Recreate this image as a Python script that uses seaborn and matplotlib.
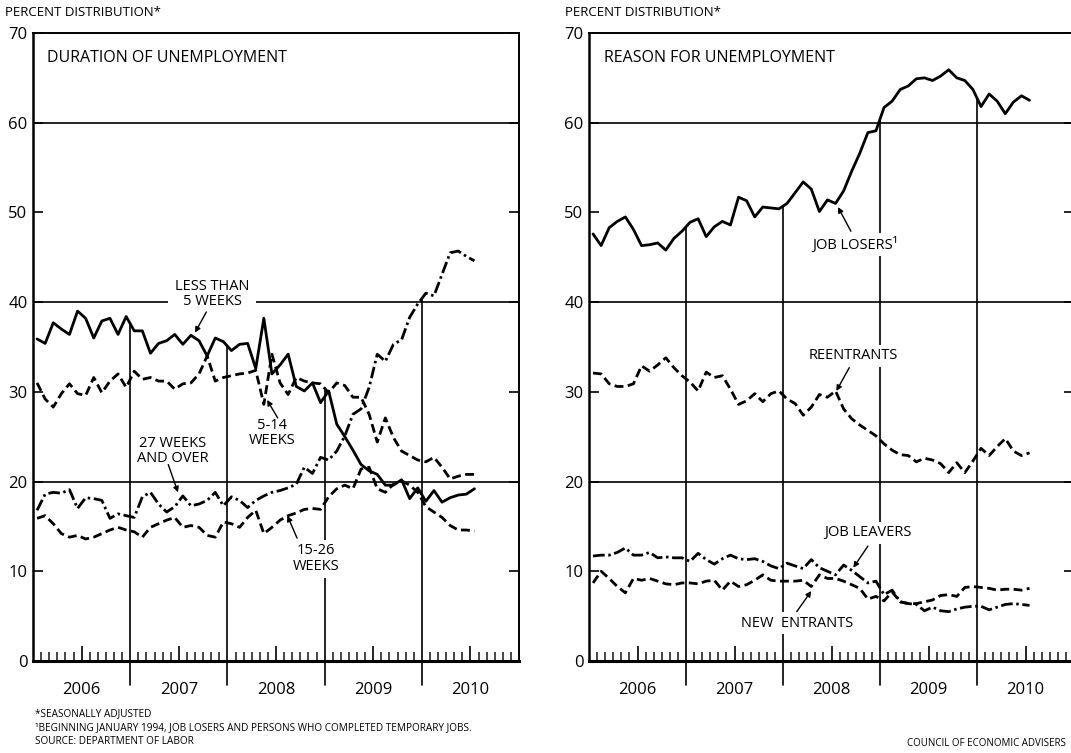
import numpy as np
import pandas as pd
import matplotlib
matplotlib.use("Agg")
import matplotlib.pyplot as plt
import seaborn as sns

# ---------------- data (percent distribution, monthly Jan 2006 - Jul 2010) ----------------
years = ["2006", "2007", "2008", "2009", "2010"]
n_months = 55

less_than_5_weeks = [35.9, 35.4, 37.7, 37.0, 36.4, 39.0, 38.2, 36.0, 37.9, 38.2, 36.4, 38.4,
                     36.8, 36.8, 34.3, 35.4, 35.7, 36.4, 35.3, 36.3, 35.7, 34.0, 36.0, 35.6,
                     34.6, 35.3, 35.4, 32.6, 38.2, 32.0, 33.0, 34.2, 30.6, 30.1, 31.0, 28.8,
                     30.1, 26.4, 25.0, 23.5, 21.9, 21.2, 20.8, 19.6, 19.6, 20.2, 18.1, 19.3,
                     17.8, 19.0, 17.7, 18.2, 18.5, 18.6, 19.2]
weeks_5_14 = [31.0, 29.2, 28.3, 29.8, 30.9, 29.8, 29.6, 31.6, 29.9, 31.2, 32.0, 30.5,
              32.3, 31.4, 31.6, 31.2, 31.2, 30.3, 30.9, 31.0, 32.0, 34.0, 31.2, 31.6,
              31.8, 32.0, 32.1, 32.4, 28.6, 34.2, 31.0, 29.7, 31.6, 31.2, 31.0, 30.9,
              29.9, 31.0, 30.7, 29.4, 29.4, 27.5, 24.4, 27.1, 24.9, 23.4, 22.9, 22.4,
              22.2, 22.7, 21.6, 20.3, 20.6, 20.8, 20.8]
weeks_15_26 = [15.9, 16.2, 15.3, 14.2, 13.8, 14.0, 13.6, 13.8, 14.2, 14.6, 14.9, 14.6,
               14.4, 13.8, 14.9, 15.3, 15.7, 16.0, 14.9, 15.1, 14.9, 14.0, 13.8, 15.5,
               15.3, 14.9, 16.0, 16.8, 14.2, 14.9, 15.7, 16.2, 16.5, 16.9, 17.0, 16.9,
               18.3, 19.2, 19.6, 19.2, 21.4, 21.6, 19.2, 18.8, 19.7, 20.1, 19.6, 18.8,
               17.2, 16.6, 16.0, 15.1, 14.6, 14.6, 14.5]
weeks_27_over = [16.8, 18.6, 18.8, 18.7, 19.1, 17.0, 18.2, 18.1, 17.9, 15.9, 16.4, 16.2,
                 16.0, 18.3, 18.8, 17.5, 16.6, 17.2, 18.4, 17.3, 17.5, 17.9, 18.8, 17.3,
                 18.3, 17.9, 17.1, 17.9, 18.4, 18.8, 19.0, 19.3, 19.7, 21.6, 20.9, 22.7,
                 22.4, 23.4, 25.1, 27.5, 28.1, 30.5, 34.2, 33.4, 35.3, 35.8, 38.3, 39.8,
                 41.0, 40.7, 43.1, 45.5, 45.7, 45.1, 44.6]

job_losers = [47.6, 46.3, 48.3, 49.0, 49.5, 48.1, 46.3, 46.4, 46.6, 45.8, 47.1, 47.9,
              48.9, 49.3, 47.3, 48.4, 49.0, 48.6, 51.7, 51.3, 49.5, 50.6, 50.5, 50.4,
              51.0, 52.2, 53.4, 52.6, 50.1, 51.4, 51.0, 52.4, 54.6, 56.6, 58.9, 59.1,
              61.7, 62.4, 63.7, 64.1, 64.9, 65.0, 64.7, 65.2, 65.9, 65.0, 64.7, 63.7,
              61.8, 63.2, 62.4, 61.0, 62.3, 63.0, 62.5]
reentrants = [32.1, 32.0, 30.9, 30.6, 30.6, 30.9, 32.9, 32.3, 33.0, 33.8, 32.7, 31.8,
              31.1, 30.1, 32.2, 31.6, 31.8, 30.3, 28.6, 29.0, 29.8, 28.9, 29.8, 30.1,
              29.2, 28.7, 27.4, 28.3, 29.7, 29.4, 30.1, 28.1, 27.0, 26.3, 25.7, 25.1,
              24.2, 23.5, 23.0, 22.9, 22.2, 22.6, 22.4, 22.0, 21.0, 22.1, 21.0, 22.3,
              23.7, 22.9, 23.9, 24.8, 23.4, 22.9, 23.2]
job_leavers = [11.7, 11.8, 11.8, 12.1, 12.6, 11.8, 11.8, 12.1, 11.5, 11.6, 11.5, 11.5,
               11.1, 12.0, 11.3, 10.8, 11.4, 11.8, 11.4, 11.3, 11.4, 11.1, 10.6, 10.3,
               10.9, 10.6, 10.3, 11.3, 10.4, 10.0, 9.6, 10.7, 10.1, 9.4, 8.7, 8.9,
               7.4, 7.9, 6.6, 6.4, 6.3, 5.6, 6.0, 5.6, 5.5, 5.8, 6.0, 6.1,
               6.1, 5.7, 6.0, 6.3, 6.4, 6.3, 6.2]
new_entrants = [8.7, 10.0, 9.2, 8.3, 7.6, 9.2, 9.0, 9.2, 8.9, 8.6, 8.5, 8.7,
                8.7, 8.6, 8.9, 9.0, 7.9, 8.9, 8.3, 8.5, 9.0, 9.6, 9.0, 8.9,
                8.9, 8.9, 9.0, 8.3, 9.6, 9.2, 9.2, 8.9, 8.5, 8.1, 6.9, 7.2,
                6.7, 7.7, 6.6, 6.4, 6.4, 6.6, 6.8, 7.3, 7.4, 7.2, 8.2, 8.3,
                8.2, 8.1, 7.9, 8.0, 8.0, 7.9, 8.1]

# month positions (month index, plotted mid-month)
month_pos = np.arange(n_months) + 0.5

left_series = {"LESS THAN 5 WEEKS": less_than_5_weeks, "5-14 WEEKS": weeks_5_14,
               "15-26 WEEKS": weeks_15_26, "27 WEEKS AND OVER": weeks_27_over}
right_series = {"JOB LOSERS": job_losers, "REENTRANTS": reentrants,
                "JOB LEAVERS": job_leavers, "NEW ENTRANTS": new_entrants}

DASH = (3.2, 1.6)
DASHDOT = (4.2, 1.3, 0.9, 1.3)
left_dashes = {"LESS THAN 5 WEEKS": "", "5-14 WEEKS": DASH, "15-26 WEEKS": DASH,
               "27 WEEKS AND OVER": DASHDOT}
right_dashes = {"JOB LOSERS": "", "REENTRANTS": DASH, "JOB LEAVERS": DASHDOT,
                "NEW ENTRANTS": DASH}


def long_df(series):
    frames = [pd.DataFrame({"month": month_pos, "value": vals, "series": name})
              for name, vals in series.items()]
    return pd.concat(frames, ignore_index=True)


sns.set_style("white")
plt.rcParams["font.family"] = ["Open Sans", "DejaVu Sans"]
plt.rcParams["text.color"] = "black"

W, H = 1071, 753
fig = plt.figure(figsize=(W / 100, H / 100), dpi=100)
axL = fig.add_axes([33 / W, 1 - 661 / H, 486 / W, 628 / H])
axR = fig.add_axes([589 / W, 1 - 661 / H, 485 / W, 628 / H])


def style_axes(ax, series):
    ax.set_xlim(0, 60)
    ax.set_ylim(0, 70)
    for side in ["left", "bottom", "right", "top"]:
        ax.spines[side].set_visible(True)
        ax.spines[side].set_color("black")
    ax.spines["left"].set_linewidth(1.8)
    ax.spines["bottom"].set_linewidth(2.2)
    ax.spines["top"].set_linewidth(1.4)
    ax.spines["right"].set_linewidth(1.4)
    ax.set_yticks(range(0, 71, 10))
    ax.tick_params(axis="y", direction="in", length=7, width=1.2, left=True, right=True,
                   labelleft=True, labelright=False, labelsize=12, pad=4, colors="black")
    major = [6 + 12 * k for k in range(5)]
    minor = [m for m in range(1, 60) if m % 12 != 0 and m % 12 != 6]
    ax.set_xticks(major)
    ax.set_xticklabels(years)
    ax.set_xticks(minor, minor=True)
    ax.tick_params(axis="x", which="major", direction="in", length=11, width=1.2,
                   bottom=True, top=False, labelsize=12, pad=15, colors="black")
    ax.tick_params(axis="x", which="minor", direction="in", length=6.5, width=1.2,
                   bottom=True, top=False)
    ax.set_xlabel("")
    ax.set_ylabel("")
    for g in (20, 40, 60):
        ax.axhline(g, color="black", lw=1.2, zorder=1)
    # year separator lines rising to the top-most series
    for b in (12, 24, 36, 48):
        top = max(np.interp(b, month_pos, v) for v in series.values())
        ax.plot([b, b], [-2.7, top], color="black", lw=1.2, clip_on=False, zorder=1)


for ax, series, dashes in ((axL, left_series, left_dashes), (axR, right_series, right_dashes)):
    df = long_df(series)
    sns.lineplot(data=df, x="month", y="value", style="series", dashes=dashes,
                 color="black", lw=2.0, legend=False, ax=ax, zorder=3)
    style_axes(ax, series)

box = dict(facecolor="white", edgecolor="none", boxstyle="square,pad=0.25")
arrow = dict(arrowstyle="-|>", color="black", lw=1.0, mutation_scale=8, shrinkA=0, shrinkB=0)
lab = dict(fontsize=10.5, ha="center", va="center", linespacing=1.05, zorder=6)

# left panel labels
axL.text(1.7, 67.2, "DURATION OF UNEMPLOYMENT", fontsize=11.5, ha="left", va="center")
axL.text(22.1, 40.9, "LESS THAN\n5 WEEKS", bbox=dict(facecolor="white", edgecolor="none",
         boxstyle="square,pad=0.5"), **lab)
axL.annotate("", xy=(20.0, 36.6), xytext=(21.4, 38.9), arrowprops=arrow, zorder=6)
axL.text(29.5, 25.4, "5-14\nWEEKS", bbox=box, **lab)
axL.annotate("", xy=(28.9, 29.1), xytext=(30.2, 27.1), arrowprops=arrow, zorder=6)
axL.text(17.2, 23.4, "27 WEEKS\nAND OVER", **lab)
axL.annotate("", xy=(17.9, 18.8), xytext=(16.7, 21.9), arrowprops=arrow, zorder=6)
axL.text(34.9, 11.4, "15-26\nWEEKS", bbox=box, **lab)
axL.annotate("", xy=(31.4, 16.2), xytext=(32.6, 13.7), arrowprops=arrow, zorder=6)

# right panel labels
axR.text(1.86, 67.2, "REASON FOR UNEMPLOYMENT", fontsize=11.5, ha="left", va="center")
axR.text(32.9, 46.4, "JOB LOSERS¹", bbox=box, **lab)
axR.annotate("", xy=(30.8, 50.6), xytext=(32.4, 47.9), arrowprops=arrow, zorder=6)
axR.text(32.7, 34.0, "REENTRANTS", bbox=box, **lab)
axR.annotate("", xy=(30.6, 30.1), xytext=(32.2, 32.7), arrowprops=arrow, zorder=6)
axR.text(34.5, 14.3, "JOB LEAVERS", bbox=box, **lab)
axR.annotate("", xy=(32.7, 10.4), xytext=(34.5, 12.8), arrowprops=arrow, zorder=6)
axR.text(25.7, 4.2, "NEW  ENTRANTS", bbox=box, **lab)
axR.annotate("", xy=(27.5, 7.8), xytext=(25.7, 5.5), arrowprops=arrow, zorder=6)

# figure texts
fig.text(5 / W, 1 - 13 / H, "PERCENT DISTRIBUTION*", fontsize=9.5, ha="left", va="center")
fig.text(565 / W, 1 - 13 / H, "PERCENT DISTRIBUTION*", fontsize=9.5, ha="left", va="center")
fig.text(35 / W, 1 - 714 / H, "*SEASONALLY ADJUSTED", fontsize=7.2, ha="left", va="center")
fig.text(35 / W, 1 - 728 / H,
         "¹BEGINNING JANUARY 1994, JOB LOSERS AND PERSONS WHO COMPLETED TEMPORARY JOBS.",
         fontsize=7.2, ha="left", va="center")
fig.text(35 / W, 1 - 742 / H, "SOURCE: DEPARTMENT OF LABOR", fontsize=7.2, ha="left", va="center")
fig.text(1066 / W, 1 - 743 / H, "COUNCIL OF ECONOMIC ADVISERS", fontsize=7.0, ha="right", va="center")

fig.savefig("out.png", dpi=100, facecolor="white")
